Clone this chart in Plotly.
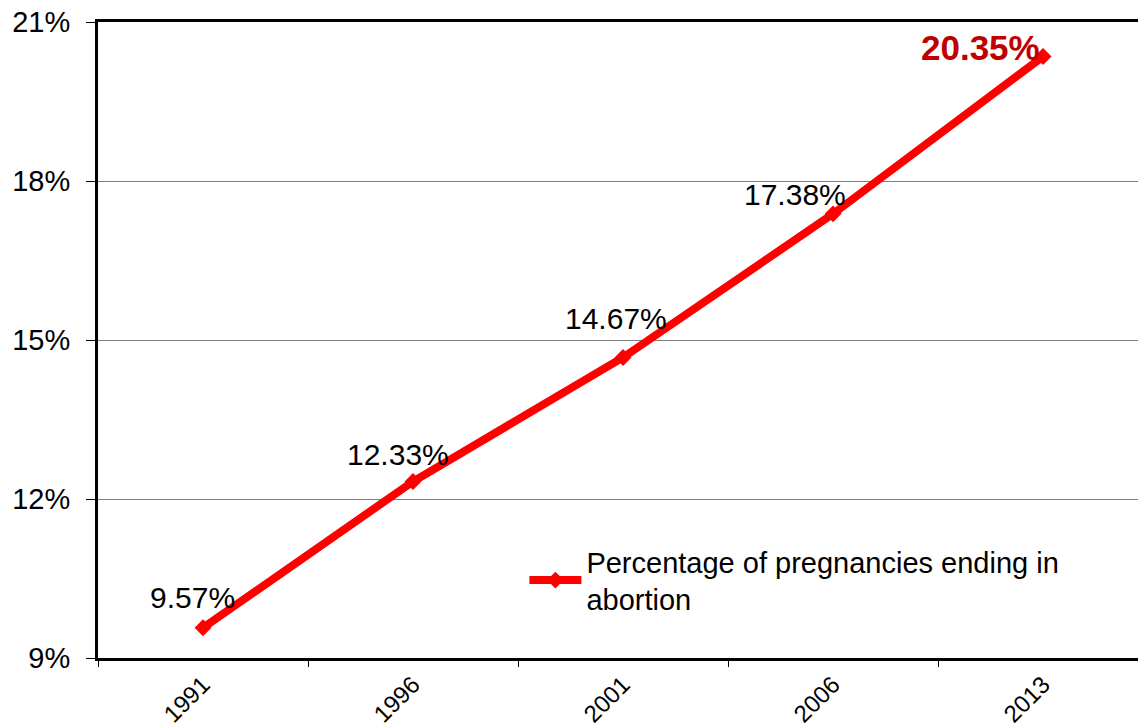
import plotly.graph_objects as go

years = ["1991", "1996", "2001", "2006", "2013"]
pct = [9.57, 12.33, 14.67, 17.38, 20.35]
labels = ["9.57%", "12.33%", "14.67%", "17.38%", "20.35%"]
y_ticks = [9, 12, 15, 18, 21]
y_tick_text = ["9%", "12%", "15%", "18%", "21%"]
series_name = "Percentage of pregnancies ending in<br>abortion"

# label offsets (pixels) for data labels
label_dx = [-11, -15, -7, -38, -63]
label_dy = [30, 27, 39, 19, 9]

FONT = "Liberation Sans, Arial, sans-serif"

fig = go.Figure()
fig.add_trace(go.Scatter(
    x=years, y=pct, mode="lines+markers", name=series_name,
    line=dict(color="#FF0000", width=8),
    marker=dict(symbol="diamond", size=13, color="#FF0000"),
))

for i, (yv, t) in enumerate(zip(pct, labels)):
    last = i == len(years) - 1
    fig.add_annotation(
        x=i, y=yv, text=("<b>%s</b>" % t) if last else t, showarrow=False,
        xshift=label_dx[i], yshift=label_dy[i],
        font=dict(family=FONT, size=30 if not last else 35,
                  color="#C00000" if last else "#000000"),
    )

fig.update_layout(
    width=1138, height=724,
    margin=dict(l=98, r=0, t=22, b=66),
    paper_bgcolor="white", plot_bgcolor="white",
    font=dict(family=FONT, color="black"),
    showlegend=True,
    legend=dict(
        x=0.41, y=0.192, xanchor="left", yanchor="top",
        font=dict(family=FONT, size=29, color="black"),
        bgcolor="rgba(0,0,0,0)", itemwidth=52,
    ),
    xaxis=dict(
        type="category", range=[-0.5, 4.452], automargin=False,
        showline=True, linecolor="black", linewidth=3, mirror=True,
        ticks="outside", tickson="boundaries", ticklen=6, tickcolor="black", tickwidth=1,
        tickangle=-45, tickfont=dict(family=FONT, size=24),
        showgrid=False, zeroline=False,
    ),
    yaxis=dict(
        range=[9, 21], tickvals=y_ticks, ticktext=y_tick_text, automargin=False,
        showline=True, linecolor="black", linewidth=3,
        ticks="outside", ticklen=9, tickcolor="black", tickwidth=1,
        ticklabelstandoff=10,
        tickfont=dict(family=FONT, size=29),
        showgrid=True, gridcolor="#808080", gridwidth=1, zeroline=False,
    ),
)

fig.write_html(
    "out.html",
    config={"displayModeBar": False},
    post_script="document.body.style.margin='0';document.body.style.padding='0';",
)
